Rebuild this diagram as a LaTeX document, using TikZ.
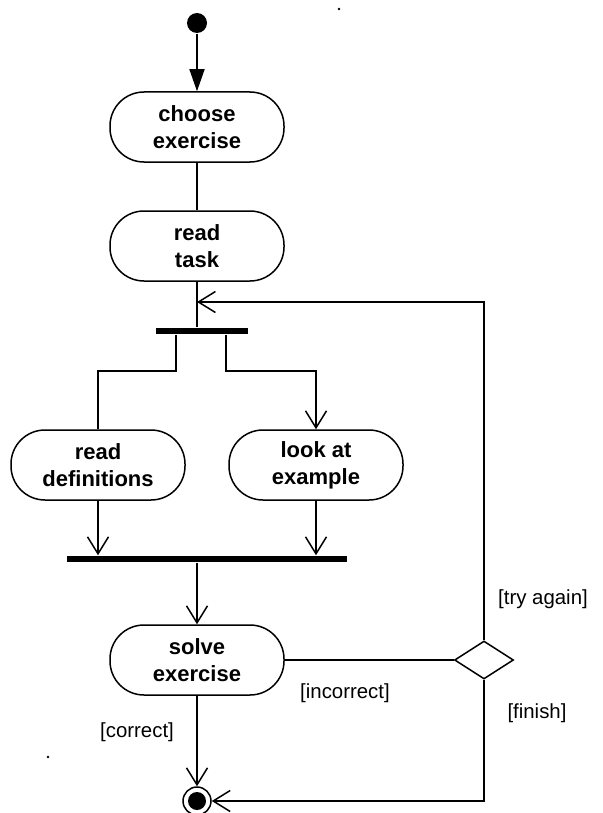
\documentclass[tikz,border=0pt]{standalone}
\usepackage{fontspec}
\setmainfont{Liberation Sans}
\usetikzlibrary{arrows.meta,shapes.geometric}
\tikzset{
    activity/.style={draw,rounded corners=17pt,minimum width=87pt,minimum height=35pt,
        align=center,inner sep=2pt,font=\fontsize{11}{13.5}\selectfont\bfseries},
    syncbar/.style={fill=black,minimum height=3pt,inner sep=0pt},
    guard/.style={font=\fontsize{10.2}{12}\selectfont,inner sep=0pt},
    flow/.style={-{Straight Barb[length=8.5pt,width=10.5pt,line width=0.75pt]}}
}
\begin{document}
\begin{tikzpicture}[x=0.5pt,y=-0.5pt,line width=0.75pt]
    \useasboundingbox (0,0) rectangle (602,813);

    % Punti sparsi
    \fill (339,9) circle (0.7pt);
    \fill (48,757) circle (0.7pt);

    % Stato iniziale
    \node[circle,fill,minimum size=10pt,inner sep=0pt] (start) at (197,23) {};

    % Attivita
    \node[activity] (choose) at (197,127) {choose\\exercise};
    \node[activity] (readtask) at (197,246) {read\\task};
    \node[activity] (readdef) at (98,465) {read\\definitions};
    \node[activity] (lookex) at (316,465) {look at\\example};
    \node[activity] (solve) at (197,660) {solve\\exercise};

    % Barre di sincronizzazione
    \node[syncbar,minimum width=46pt] (fork) at (202,331) {};
    \node[syncbar,minimum width=140pt] (join) at (207,559) {};

    % Decisione e stato finale
    \node[draw,diamond,minimum width=29.5pt,minimum height=19pt,inner sep=0pt] (decide) at (484,660) {};
    \node[circle,draw,minimum size=14pt,inner sep=0pt] (final) at (197,801) {};
    \fill (final) circle (4.5pt);

    % Punti di snodo
    \coordinate (brL) at (98,371);
    \coordinate (brR) at (316,371);
    \coordinate (loopin) at (197,302);

    % Flussi
    \draw[-{Triangle[length=11pt,width=7.5pt]}] (start) -- (choose);
    \draw (choose) -- (readtask);
    \draw (readtask) -- (readtask |- fork.north);
    \draw ([xshift=-13pt]fork.south) |- (brL) -- (readdef);
    \draw[flow] ([xshift=12pt]fork.south) |- (brR) -- (lookex);
    \draw[flow] (readdef) -- (readdef |- join.north);
    \draw[flow] (lookex) -- (lookex |- join.north);
    \draw[flow] (join.south -| solve) -- (solve);
    \draw (solve) -- (decide);
    \draw[flow] (decide.north) |- (loopin);
    \draw[flow] (decide.south) |- (final.east);
    \draw[flow] (solve) -- (final);

    % Condizioni
    \node[guard] (tryagain) at (543,599) {[try again]};
    \node[guard] (incorrect) at (345,693) {[incorrect]};
    \node[guard] (finish) at (537,713) {[finish]};
    \node[guard] (correct) at (137,732) {[correct]};
\end{tikzpicture}
\end{document}
